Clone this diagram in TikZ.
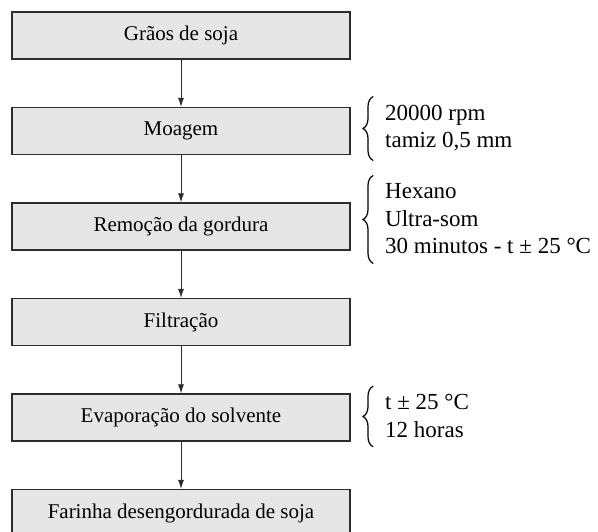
\documentclass[tikz,border=0pt]{standalone}
\usepackage{fontspec}
\setmainfont{Liberation Serif}
\usepackage{tikz}
\usetikzlibrary{positioning, arrows.meta, decorations.pathreplacing}
\definecolor{boxgray}{RGB}{230,230,231}
\definecolor{linegray}{RGB}{45,45,45}

\begin{document}
\begin{tikzpicture}[x=1pt,y=-1pt,
  font=\fontsize{21}{27}\selectfont,
  stepbox/.style={draw=linegray, line width=1.2pt, fill=boxgray, minimum width=338pt, minimum height=47pt, inner sep=0pt},
  flow/.style={-{Latex[length=9pt,width=6pt]}, line width=0.9pt, draw=linegray},
  notes/.style={align=left, anchor=west, inner sep=0pt, font=\fontsize{23}{27.5}\selectfont},
  curly/.style={decorate, decoration={brace, mirror, amplitude=10pt}, line width=1.2pt, line cap=round}]
\useasboundingbox (0,0) rectangle (598,532);

% process steps
\node [stepbox] (graos) at (181,35.5) {Grãos de soja};
\node [stepbox] (moagem) at (181,131) {Moagem};
\node [stepbox] (remocao) at (181,226.5) {Remoção da gordura};
\node [stepbox] (filtracao) at (181,322) {Filtração};
\node [stepbox] (evaporacao) at (181,417.5) {Evaporação do solvente};
\node [stepbox] (farinha) at (181,513) {Farinha desengordurada de soja};

% arrows
\draw [flow] (graos) -- (moagem);
\draw [flow] (moagem) -- (remocao);
\draw [flow] (remocao) -- (filtracao);
\draw [flow] (filtracao) -- (evaporacao);
\draw [flow] (evaporacao) -- (farinha);

% conditions
\node [notes] (condmoagem) at (385,128) {20000 rpm\\tamiz 0,5 mm};
\node [notes] (condremocao) at (385,219) {Hexano\\Ultra-som\\30 minutos - t ± 25 °C};
\node [notes] (condevap) at (385,416) {t ± 25 °C\\12 horas};

\draw [curly] ([xshift=-12pt,yshift=8pt]condmoagem.north west) -- ([xshift=-12pt,yshift=-9pt]condmoagem.south west);
\draw [curly] ([xshift=-12pt,yshift=8pt]condremocao.north west) -- ([xshift=-12pt,yshift=-9pt]condremocao.south west);
\draw [curly] ([xshift=-12pt,yshift=8pt]condevap.north west) -- ([xshift=-12pt,yshift=-9pt]condevap.south west);
\end{tikzpicture}
\end{document}
